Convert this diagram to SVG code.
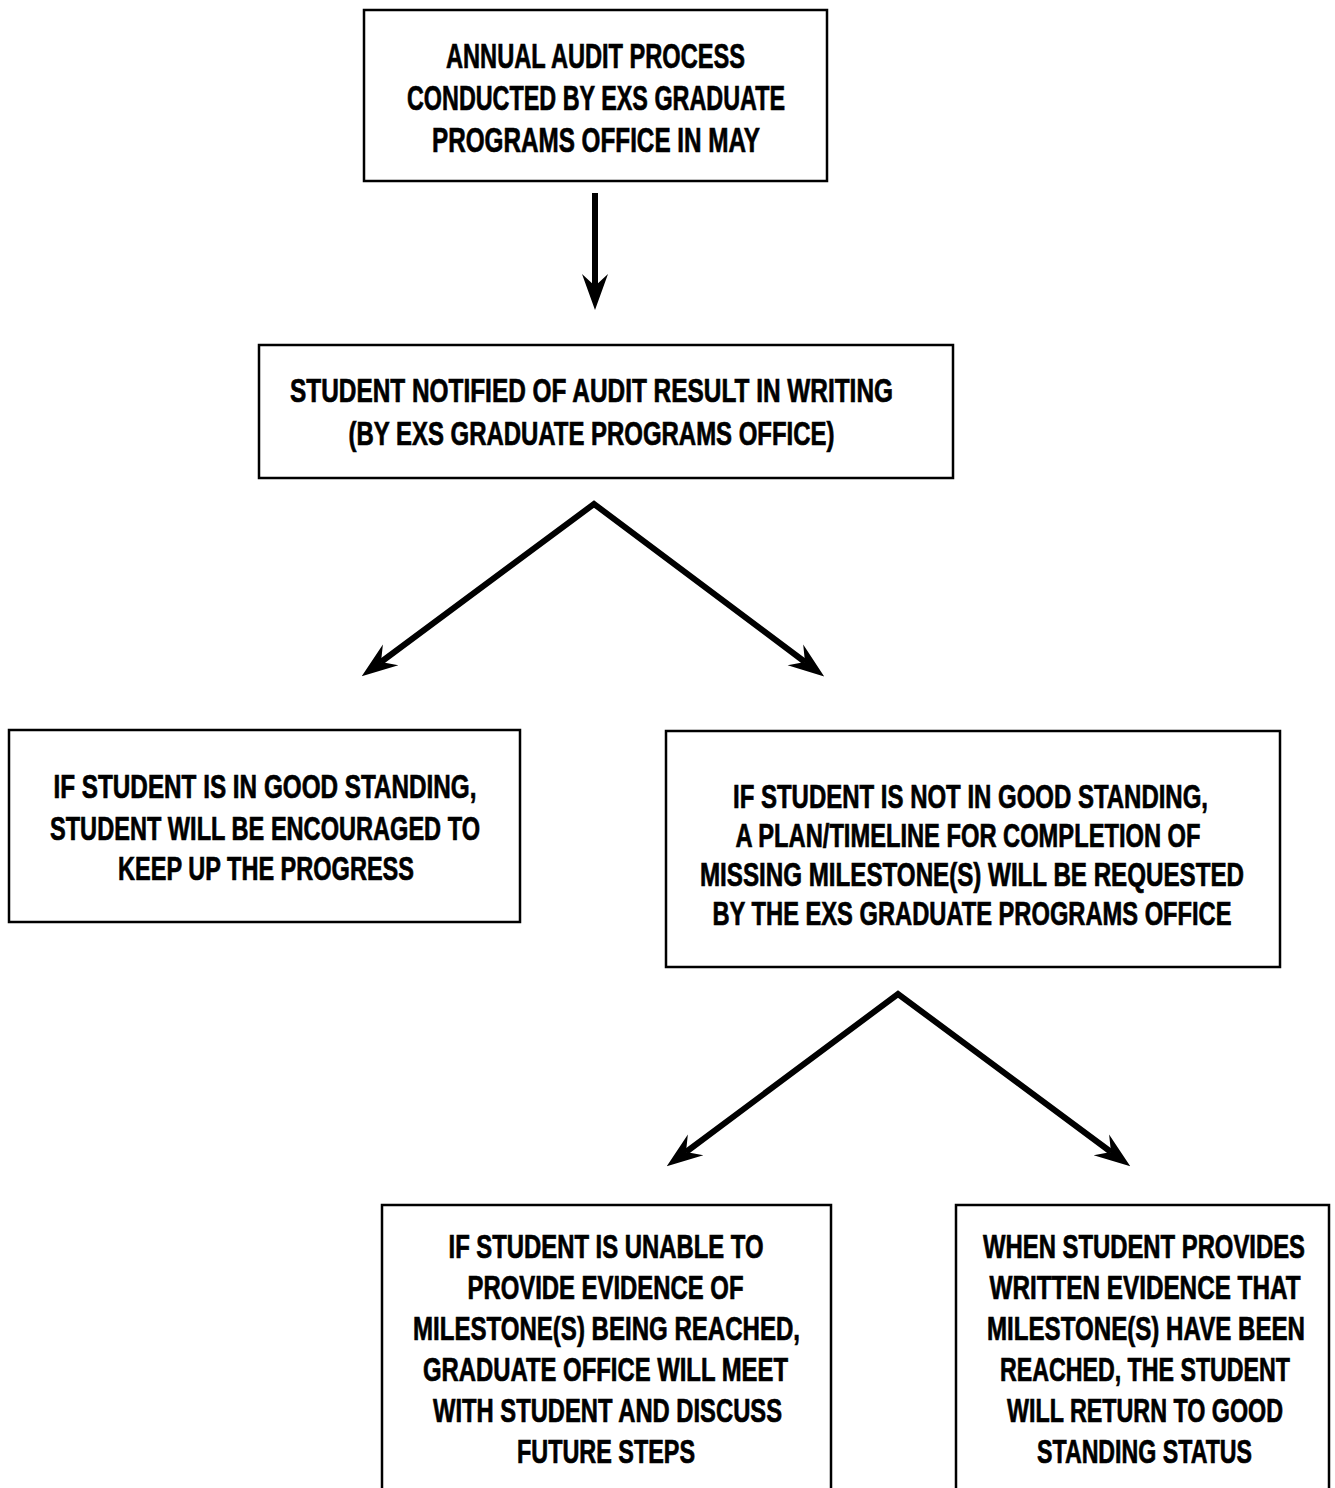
<svg xmlns="http://www.w3.org/2000/svg" width="1335" height="1488" viewBox="0 0 1335 1488">
<style>
  .box { fill: #ffffff; stroke: #000000; stroke-width: 2.5; }
  .t { font-family: "Liberation Sans Narrow", "Liberation Sans", Arial, sans-serif; font-weight: bold; font-size: 33px; fill: #000000; stroke: #000000; stroke-width: 0.7; text-anchor: middle; }
  .t1 { font-size: 35px; }
  .conn { fill: none; stroke: #000000; stroke-width: 6; stroke-linejoin: miter; stroke-miterlimit: 10; }
</style>
<defs>
  <marker id="ah" markerUnits="userSpaceOnUse" viewBox="0 0 36 28" markerWidth="36" markerHeight="28" refX="12" refY="14" orient="auto-start-reverse">
    <path d="M0,1 L36,14 L0,27 L12,14 Z" fill="#000000"/>
  </marker>
</defs>
<rect width="1335" height="1488" fill="#ffffff"/>

<g id="connectors">
  <path class="conn" d="M595,193 L595,286" marker-end="url(#ah)"/>
  <path class="conn" d="M381,662 L594,504 L805,662" marker-start="url(#ah)" marker-end="url(#ah)"/>
  <path class="conn" d="M686,1152 L898,994 L1111,1152" marker-start="url(#ah)" marker-end="url(#ah)"/>
</g>

<g id="node-audit">
  <rect class="box" x="364" y="10" width="463" height="171"/>
  <text class="t t1" x="595.5" y="68" textLength="299" lengthAdjust="spacingAndGlyphs">ANNUAL AUDIT PROCESS</text>
  <text class="t t1" x="596" y="110" textLength="378" lengthAdjust="spacingAndGlyphs">CONDUCTED BY EXS GRADUATE</text>
  <text class="t t1" x="596" y="152" textLength="328" lengthAdjust="spacingAndGlyphs">PROGRAMS OFFICE IN MAY</text>
</g>

<g id="node-notified">
  <rect class="box" x="259" y="345" width="694" height="133"/>
  <text class="t" x="591.5" y="402" textLength="603" lengthAdjust="spacingAndGlyphs">STUDENT NOTIFIED OF AUDIT RESULT IN WRITING</text>
  <text class="t" x="591.5" y="445" textLength="486" lengthAdjust="spacingAndGlyphs">(BY EXS GRADUATE PROGRAMS OFFICE)</text>
</g>

<g id="node-good">
  <rect class="box" x="9" y="730" width="511" height="192"/>
  <text class="t" x="265" y="798" textLength="423" lengthAdjust="spacingAndGlyphs">IF STUDENT IS IN GOOD STANDING,</text>
  <text class="t" x="265" y="840" textLength="430" lengthAdjust="spacingAndGlyphs">STUDENT WILL BE ENCOURAGED TO</text>
  <text class="t" x="266" y="880" textLength="296" lengthAdjust="spacingAndGlyphs">KEEP UP THE PROGRESS</text>
</g>

<g id="node-not-good">
  <rect class="box" x="666" y="731" width="614" height="236"/>
  <text class="t" x="970.5" y="808" textLength="475" lengthAdjust="spacingAndGlyphs">IF STUDENT IS NOT IN GOOD STANDING,</text>
  <text class="t" x="968" y="847" textLength="465" lengthAdjust="spacingAndGlyphs">A PLAN/TIMELINE FOR COMPLETION OF</text>
  <text class="t" x="972" y="886" textLength="544" lengthAdjust="spacingAndGlyphs">MISSING MILESTONE(S) WILL BE REQUESTED</text>
  <text class="t" x="972" y="925" textLength="519" lengthAdjust="spacingAndGlyphs">BY THE EXS GRADUATE PROGRAMS OFFICE</text>
</g>

<g id="node-unable">
  <rect class="box" x="382" y="1205" width="449" height="300"/>
  <text class="t" x="606" y="1258" textLength="315" lengthAdjust="spacingAndGlyphs">IF STUDENT IS UNABLE TO</text>
  <text class="t" x="605.5" y="1299" textLength="276" lengthAdjust="spacingAndGlyphs">PROVIDE EVIDENCE OF</text>
  <text class="t" x="606.5" y="1340" textLength="387" lengthAdjust="spacingAndGlyphs">MILESTONE(S) BEING REACHED,</text>
  <text class="t" x="605.5" y="1381" textLength="365" lengthAdjust="spacingAndGlyphs">GRADUATE OFFICE WILL MEET</text>
  <text class="t" x="607.5" y="1422" textLength="349" lengthAdjust="spacingAndGlyphs">WITH STUDENT AND DISCUSS</text>
  <text class="t" x="606" y="1463" textLength="178" lengthAdjust="spacingAndGlyphs">FUTURE STEPS</text>
</g>

<g id="node-provides">
  <rect class="box" x="956" y="1205" width="373" height="300"/>
  <text class="t" x="1144" y="1258" textLength="322" lengthAdjust="spacingAndGlyphs">WHEN STUDENT PROVIDES</text>
  <text class="t" x="1145" y="1299" textLength="311" lengthAdjust="spacingAndGlyphs">WRITTEN EVIDENCE THAT</text>
  <text class="t" x="1146" y="1340" textLength="318" lengthAdjust="spacingAndGlyphs">MILESTONE(S) HAVE BEEN</text>
  <text class="t" x="1145" y="1381" textLength="290" lengthAdjust="spacingAndGlyphs">REACHED, THE STUDENT</text>
  <text class="t" x="1145" y="1422" textLength="276" lengthAdjust="spacingAndGlyphs">WILL RETURN TO GOOD</text>
  <text class="t" x="1144.5" y="1463" textLength="215" lengthAdjust="spacingAndGlyphs">STANDING STATUS</text>
</g>
</svg>
